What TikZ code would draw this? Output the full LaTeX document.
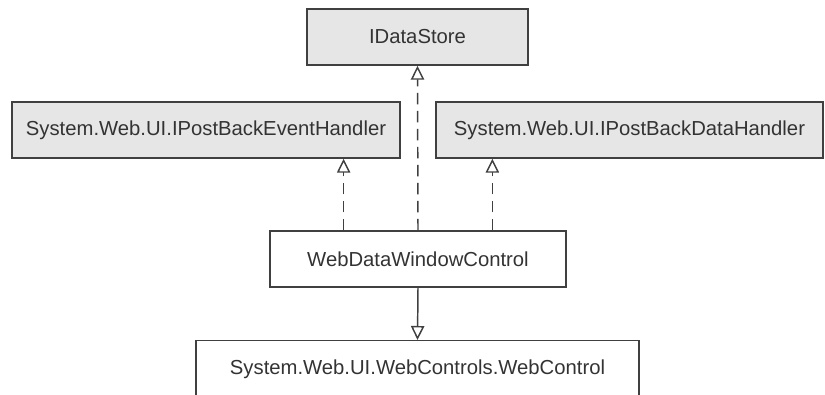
\documentclass[tikz,border=0pt]{standalone}
\usepackage{fontspec}
\setmainfont{Liberation Sans}
\usetikzlibrary{arrows.meta,calc}

\definecolor{boxline}{RGB}{64,64,64}
\definecolor{boxgray}{RGB}{230,230,230}
\definecolor{labelgray}{RGB}{51,51,51}

\tikzset{
  classbox/.style={draw=boxline, line width=1.1pt, minimum height=42pt,
    inner sep=0pt, text=labelgray, font=\fontsize{15.2}{18}\selectfont},
  ifacebox/.style={classbox, fill=boxgray},
  realize/.style={draw=boxline, line width=1.1pt, dash pattern={on 8.5pt off 5pt},
    -{Triangle[open, length=10.5pt, width=10pt]}},
  inherit/.style={draw=boxline, line width=1.1pt,
    -{Triangle[open, length=10.5pt, width=10pt]}}
}

\begin{document}
\begin{tikzpicture}[x=0.75pt,y=0.75pt,yscale=-1,xscale=1]
\useasboundingbox (0,0) rectangle (825,395);
\clip (0,0) rectangle (825,395);

% Interfaces
\node [ifacebox, minimum width=165.75pt] (store) at (417.5,37) {IDataStore};
\node [ifacebox, minimum width=291pt] (event) at (206,130) {System.Web.UI.IPostBackEventHandler};
\node [ifacebox, minimum width=290.25pt] (data) at (629.5,130) {System.Web.UI.IPostBackDataHandler};
% Classes
\node [classbox, minimum width=222pt] (ctrl) at (418,259) {WebDataWindowControl};
\node [classbox, minimum width=332.25pt, minimum height=43.5pt, anchor=north] (web) at (417.5,340) {System.Web.UI.WebControls.WebControl};

% Realization links
\coordinate (ctrlL) at ($(ctrl.north west)!.25!(ctrl.north east)$);
\coordinate (ctrlR) at ($(ctrl.north west)!.75!(ctrl.north east)$);
\draw [realize] (ctrlL) -- (ctrlL |- event.south);
\draw [realize] (ctrl.north) -- (store.south);
\draw [realize] (ctrlR) -- (ctrlR |- data.south);
% Generalization
\draw [inherit] (ctrl.south) -- (web.north);

\end{tikzpicture}
\end{document}
